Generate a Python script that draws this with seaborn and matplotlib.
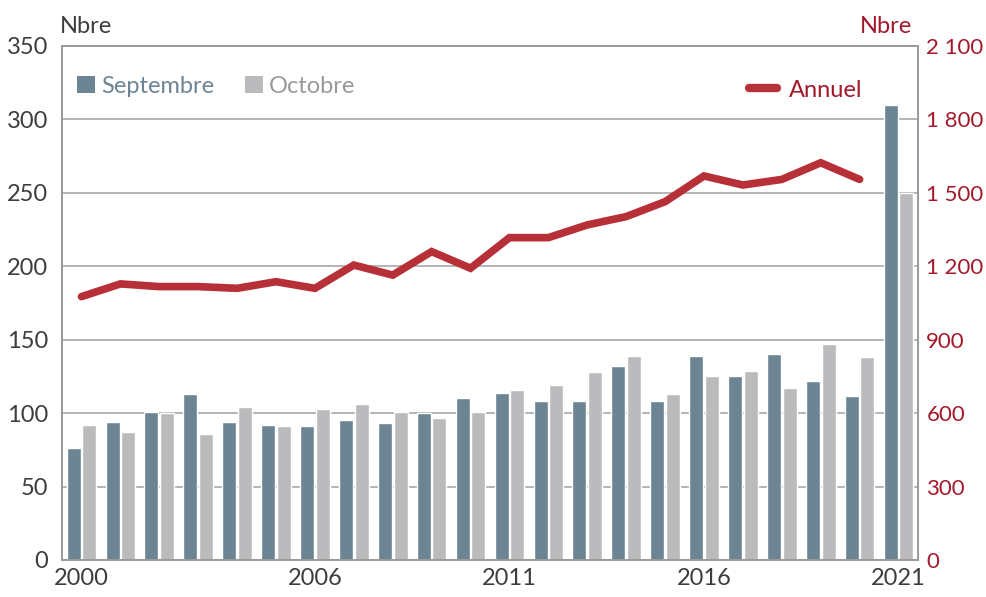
import matplotlib
matplotlib.use("Agg")
import matplotlib.pyplot as plt
import seaborn as sns
import numpy as np
import pandas as pd
from matplotlib.patches import Patch
from matplotlib.lines import Line2D
from matplotlib.ticker import FuncFormatter

# ---- data ----
years = list(range(2000, 2022))
septembre = [76, 94, 101, 113, 94, 92, 91, 95, 93, 100, 110, 114, 108, 108, 132,
             108, 139, 125, 140, 122, 112, 310]
octobre = [92, 87, 100, 86, 104, 91, 103, 106, 101, 97, 101, 116, 119, 128, 139,
           113, 125, 129, 117, 147, 138, 250]
annuel_years = list(range(2000, 2021))
annuel = [1076, 1128, 1117, 1117, 1110, 1137, 1110, 1205, 1164, 1260, 1192, 1317,
          1317, 1369, 1403, 1464, 1569, 1532, 1555, 1623, 1555]
xtick_labels = ["2000", "2006", "2011", "2016", "2021"]

series_names = ["Septembre", "Octobre"]
c_sep = "#6c8494"
c_oct = "#bbbbbd"
c_line = "#b72f37"
c_red_text = "#a3192b"
c_text = "#3d3d3d"
c_grid = "#a8a8a8"

df = pd.DataFrame({
    "annee": [str(y) for y in years] * 2,
    "mois": [series_names[0]] * len(years) + [series_names[1]] * len(years),
    "valeur": septembre + octobre,
})

sns.set_theme(style="white")
plt.rcParams["font.family"] = ["Lato", "DejaVu Sans"]

fig = plt.figure(figsize=(9.86, 5.97), dpi=100)
ax = fig.add_axes([62 / 986, 1 - 560 / 597, 856 / 986, 514 / 597])

sns.barplot(data=df, x="annee", y="valeur", hue="mois",
            palette=[c_sep, c_oct], width=0.8, gap=0.1, saturation=1,
            legend=False, ax=ax)

ax.set_xlim(-0.5, len(years) - 0.5)
ax.set_ylim(0, 350)
ax.set_yticks(range(0, 351, 50))
ax.set_axisbelow(True)
ax.yaxis.grid(True, color=c_grid, linewidth=1.2)
ax.xaxis.grid(False)
ax.set_xlabel("")
ax.set_ylabel("")
idx = [years.index(int(l)) for l in xtick_labels]
ax.set_xticks(idx)
ax.set_xticklabels(xtick_labels)
ax.tick_params(axis="x", length=0, pad=6, labelsize=17, labelcolor=c_text)
ax.tick_params(axis="y", length=0, pad=10, labelsize=17, labelcolor=c_text)
for s in ax.spines.values():
    s.set_color("#9a9a9a")
    s.set_linewidth(1.2)

ax2 = ax.twinx()
sns.lineplot(x=np.arange(len(annuel)), y=annuel, ax=ax2, color=c_line,
             linewidth=5.5, solid_capstyle="round", solid_joinstyle="miter")
ax2.set_ylim(0, 2100)
ax2.set_yticks(range(0, 2101, 300))
ax2.yaxis.set_major_formatter(FuncFormatter(lambda v, p: f"{int(v):,}".replace(",", " ")))
ax2.tick_params(axis="y", length=0, pad=6, labelsize=16, labelcolor=c_red_text)
ax2.set_ylabel("")
for s in ax2.spines.values():
    s.set_color("#9a9a9a")
    s.set_linewidth(1.2)

# legends
h1 = [Patch(facecolor=c_sep, edgecolor="none"), Patch(facecolor=c_oct, edgecolor="none")]
leg1 = ax.legend(h1, series_names, loc="center left", bbox_to_anchor=(0.018, 0.922),
                 ncol=2, frameon=False, fontsize=17, handlelength=0.75, handleheight=0.75,
                 handletextpad=0.25, columnspacing=1.3, borderpad=0, borderaxespad=0)
for t, c in zip(leg1.get_texts(), [c_sep, "#999999"]):
    t.set_color(c)

h2 = [Line2D([0], [0], color=c_line, linewidth=6, solid_capstyle="round")]
leg2 = ax2.legend(h2, ["Annuel"], loc="center right", bbox_to_anchor=(0.935, 0.914),
                  frameon=False, fontsize=17, handlelength=1.2, handletextpad=0.5,
                  borderpad=0, borderaxespad=0)
for t in leg2.get_texts():
    t.set_color(c_red_text)

fig.text(60 / 986, 1 - 33 / 597, "Nbre", ha="left", va="baseline", fontsize=17, color=c_text)
fig.text(912 / 986, 1 - 33 / 597, "Nbre", ha="right", va="baseline", fontsize=17, color=c_red_text)

fig.savefig("out.png", dpi=100)
